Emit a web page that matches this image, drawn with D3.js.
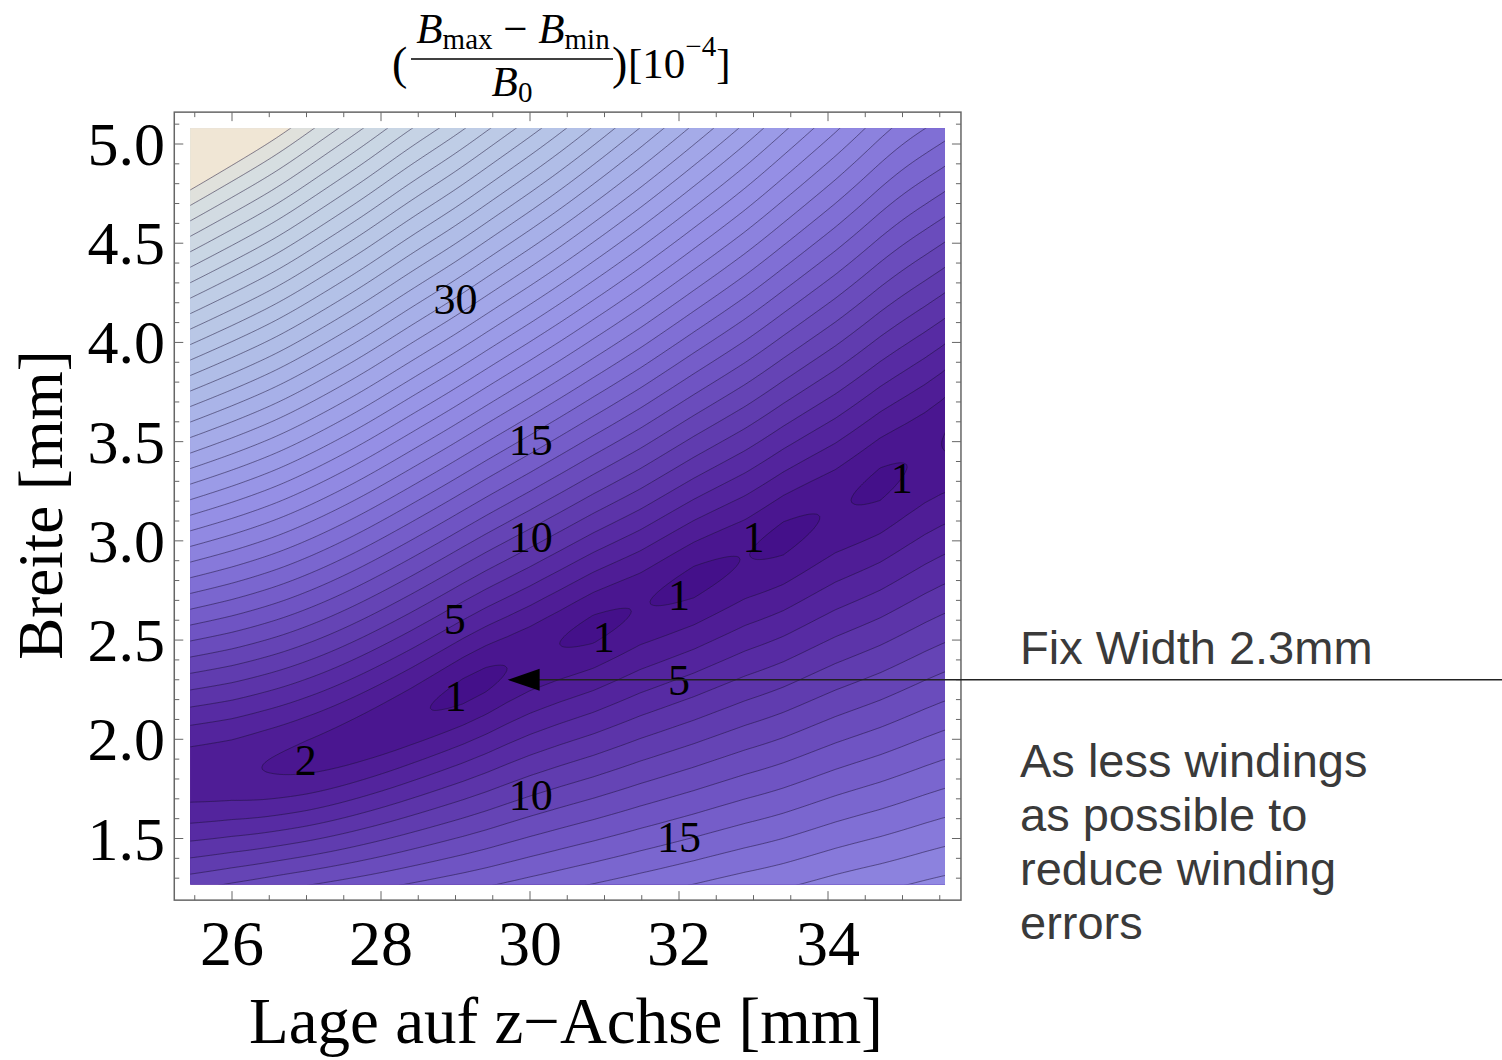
<!DOCTYPE html>
<html>
<head>
<meta charset="utf-8">
<script src="https://cdn.jsdelivr.net/npm/d3@7"></script>
<style>
  body { margin: 0; background: #fff; }
  svg text { font-family: "Liberation Serif", "Times New Roman", serif; }
</style>
</head>
<body>
<div id="chart-area"></div>
<script>
// columns along the z axis [mm] where the picture was read
var zCols     = [25.4, 26.0, 26.6, 27.2, 27.8, 28.4, 29.0, 29.6, 30.2, 30.8, 31.4, 32.0, 32.6, 33.2, 33.8, 34.4, 35.0, 35.6];
// width of the valley bottom (best width) per column [mm]
var valleyW   = [1.82, 1.835, 1.865, 1.92, 2.006, 2.107, 2.223, 2.339, 2.45, 2.55, 2.651, 2.762, 2.868, 2.974, 3.10, 3.221, 3.357, 3.508];
// rise per mm above / below the valley
var slopeUp   = [12.9, 12.4, 12.0, 11.6, 11.35, 11.1, 11.0, 10.8, 10.6, 10.3, 9.96, 9.66, 9.31, 8.93, 8.59, 8.23, 7.84, 7.9];
var slopeDown = [13.1, 13.7, 14.1, 13.7, 12.8, 11.9, 11.0, 10.25, 9.7, 9.35, 8.95, 8.6, 8.3, 8.0, 7.7, 7.45, 7.13, 6.83];

// lowest value along the valley (islands below 1)
var valleyMinZ = [25.4, 26.0, 26.4, 27.0, 27.8, 28.4, 28.66, 29.1, 29.4, 29.69, 30.0, 30.4, 30.85, 31.36, 31.48, 31.61,
                  32.2, 32.82, 32.88, 32.95, 33.4, 33.89, 34.1, 34.31, 34.7, 35.06, 35.3, 35.53, 35.6];
var valleyMin  = [2.4, 2.25, 2.0, 1.7, 1.4, 1.15, 1.0, 0.72, 0.75, 1.0, 1.12, 1.0, 0.72, 1.0, 1.06, 1.0,
                  0.7, 1.0, 1.03, 1.0, 0.72, 1.0, 1.1, 1.0, 0.78, 1.0, 1.08, 1.0, 0.9];

var levels = d3.range(1, 39);

var xTicks = [26, 28, 30, 32, 34];
var yTicks = [1.5, 2.0, 2.5, 3.0, 3.5, 4.0, 4.5, 5.0];

// contour labels as printed on the plot
var labelText = ["30", "15", "10", "5", "2", "1", "1", "1", "1", "1", "5", "10", "15"];
var labelZ    = [29.0, 30.01, 30.01, 28.99, 26.99, 29.0, 30.99, 32.0, 33.0, 34.99, 32.0, 30.01, 32.0];
var labelW    = [4.22, 3.51, 3.02, 2.61, 1.90, 2.22, 2.52, 2.73, 3.02, 3.32, 2.30, 1.72, 1.51];

var zRange = [25.44, 35.57], wRange = [1.27, 5.08];
var fixWidth = 2.3, fixZ = 29.7;

var noteTitle = "Fix Width 2.3mm";
var noteLines = ["As less windings", "as possible to", "reduce winding", "errors"];

var width = 1502, height = 1060;

var x = d3.scaleLinear().domain([26, 34]).range([232, 828]);
var y = d3.scaleLinear().domain([5.0, 1.5]).range([144, 838.5]);

var color = d3.scaleLinear()
    .domain([0.5, 1.5, 2.5, 4, 7, 10, 12, 14, 16, 19, 22, 26, 30, 34, 36.5, 37.5, 38.5])
    .range(["#44108a", "#4a1690", "#4f1d96", "#5527a0", "#6240b2", "#7258c6", "#7d6ad2", "#8a7edc",
            "#938ce4", "#9d9ee8", "#a6aee8", "#b1bfe7", "#bdcce6", "#cbd7e4", "#d6dee1", "#e0e1dc", "#f0e6d5"])
    .clamp(true);

var svg = d3.select("#chart-area").append("svg")
    .attr("width", width)
    .attr("height", height);

// ---- field on a fine grid ----
var x0 = x(zRange[0]), x1 = x(zRange[1]);
var y0 = y(wRange[1]), y1 = y(wRange[0]);
var nx = 320, ny = 320, pad = 3;
var cw = (x1 - x0) / nx, ch = (y1 - y0) / ny;
var gx = nx + 2 * pad, gy = ny + 2 * pad;

var tOf = d3.scaleLinear().domain([zCols[0], zCols[zCols.length - 1]]).range([0, 1]).clamp(true);
var wAt = d3.interpolateBasis(valleyW);
var upAt = d3.interpolateBasis(slopeUp);
var downAt = d3.interpolateBasis(slopeDown);
var minAt = d3.scaleLinear().domain(valleyMinZ).range(valleyMin).clamp(true);

var values = new Array(gx * gy);
for (var j = 0; j < gy; j++) {
  var w = y.invert(y0 + (j - pad + 0.5) * ch);
  for (var i = 0; i < gx; i++) {
    var z = x.invert(x0 + (i - pad + 0.5) * cw);
    var t = tOf(z);
    var d = w - wAt(t);
    var g = d > 0 ? upAt(t) : downAt(t);
    var m = minAt(z);
    values[j * gx + i] = Math.sqrt(m * m + g * g * d * d);
  }
}

var contours = d3.contours().size([gx, gy]).thresholds(levels)(values);

var path = d3.geoPath(d3.geoTransform({
  point: function(px, py) {
    this.stream.point(x0 + (px - pad) * cw, y0 + (py - pad) * ch);
  }
}));

svg.append("clipPath").attr("id", "plot-clip")
  .append("rect")
    .attr("x", x0).attr("y", y0)
    .attr("width", x1 - x0).attr("height", y1 - y0);

var plot = svg.append("g").attr("clip-path", "url(#plot-clip)");

plot.append("rect")
    .attr("x", x0).attr("y", y0)
    .attr("width", x1 - x0).attr("height", y1 - y0)
    .attr("fill", color(0.5));

plot.selectAll("path.band")
  .data(contours)
  .enter().append("path")
    .attr("class", "band")
    .attr("d", path)
    .attr("fill", function(c) { return color(c.value + 0.5); });

plot.selectAll("path.iso")
  .data(contours)
  .enter().append("path")
    .attr("class", "iso")
    .attr("d", path)
    .attr("fill", "none")
    .attr("stroke", "#1c1236")
    .attr("stroke-opacity", 0.5)
    .attr("stroke-width", 1);

// ---- contour labels ----
svg.append("g").selectAll("text")
  .data(labelText)
  .enter().append("text")
    .attr("x", function(d, i) { return x(labelZ[i]); })
    .attr("y", function(d, i) { return y(labelW[i]); })
    .attr("dy", "0.35em")
    .attr("text-anchor", "middle")
    .attr("font-size", "44px")
    .attr("fill", "#000")
    .text(function(d) { return d; });

// ---- frame with ticks ----
var fx0 = x0 - 16, fx1 = x1 + 16, fy0 = y0 - 16, fy1 = y1 + 16;
var frame = svg.append("g");
frame.append("rect")
    .attr("x", fx0).attr("y", fy0)
    .attr("width", fx1 - fx0).attr("height", fy1 - fy0)
    .attr("fill", "none")
    .attr("stroke", "#666")
    .attr("stroke-width", 1.5);

var xMinor = d3.range(25.5, 35.75, 0.5);
var yMinor = d3.range(13, 52).map(function(v) { return v / 10; });

function isMajorX(v) { return Math.abs(v / 2 - Math.round(v / 2)) < 1e-6; }
function isMajorY(v) { return Math.abs(v * 2 - Math.round(v * 2)) < 1e-6; }

xMinor.forEach(function(v) {
  var px = x(v), len = isMajorX(v) ? 9 : 5;
  frame.append("line").attr("x1", px).attr("x2", px).attr("y1", fy1).attr("y2", fy1 - len)
    .attr("stroke", "#666").attr("stroke-width", 1);
  frame.append("line").attr("x1", px).attr("x2", px).attr("y1", fy0).attr("y2", fy0 + len)
    .attr("stroke", "#666").attr("stroke-width", 1);
});
yMinor.forEach(function(v) {
  var py = y(v), len = isMajorY(v) ? 9 : 5;
  frame.append("line").attr("x1", fx0).attr("x2", fx0 + len).attr("y1", py).attr("y2", py)
    .attr("stroke", "#666").attr("stroke-width", 1);
  frame.append("line").attr("x1", fx1).attr("x2", fx1 - len).attr("y1", py).attr("y2", py)
    .attr("stroke", "#666").attr("stroke-width", 1);
});

// tick labels
svg.append("g").selectAll("text")
  .data(xTicks)
  .enter().append("text")
    .attr("x", function(d) { return x(d); })
    .attr("y", 965)
    .attr("text-anchor", "middle")
    .attr("font-size", "64px")
    .text(function(d) { return d; });

svg.append("g").selectAll("text")
  .data(yTicks)
  .enter().append("text")
    .attr("x", 165)
    .attr("y", function(d) { return y(d) + 21; })
    .attr("text-anchor", "end")
    .attr("font-size", "62px")
    .text(function(d) { return d.toFixed(1); });

// axis titles
svg.append("text")
    .attr("x", 566)
    .attr("y", 1043)
    .attr("text-anchor", "middle")
    .attr("font-size", "65px")
    .text("Lage auf z\u2212Achse [mm]");

svg.append("text")
    .attr("transform", "translate(62,505) rotate(-90)")
    .attr("text-anchor", "middle")
    .attr("font-size", "63px")
    .text("Breite [mm]");

// ---- plot title: (Bmax - Bmin)/B0 [10^-4] ----
var title = svg.append("g");
title.append("text").attr("x", 392).attr("y", 79).attr("font-size", "46px").text("(");
title.append("text").attr("x", 612).attr("y", 79).attr("font-size", "46px").text(")");

var num = title.append("text").attr("x", 513).attr("y", 43).attr("text-anchor", "middle").attr("font-size", "43px");
num.append("tspan").attr("font-style", "italic").text("B");
num.append("tspan").attr("font-size", "29px").attr("dy", 6).text("max");
num.append("tspan").attr("dy", -6).text(" \u2212 ");
num.append("tspan").attr("font-style", "italic").text("B");
num.append("tspan").attr("font-size", "29px").attr("dy", 6).text("min");

title.append("line")
    .attr("x1", 411).attr("x2", 613).attr("y1", 59).attr("y2", 59)
    .attr("stroke", "#000").attr("stroke-width", 1.6);

var den = title.append("text").attr("x", 512).attr("y", 96).attr("text-anchor", "middle").attr("font-size", "43px");
den.append("tspan").attr("font-style", "italic").text("B");
den.append("tspan").attr("font-size", "29px").attr("dy", 6).text("0");

var unit = title.append("text").attr("x", 628).attr("y", 78).attr("font-size", "43px");
unit.append("tspan").text("[10");
unit.append("tspan").attr("font-size", "29px").attr("dy", -22).text("\u22124");
unit.append("tspan").attr("dy", 22).text("]");

// ---- annotation arrow ----
var ax = x(fixZ), ay = y(fixWidth);
svg.append("line")
    .attr("x1", ax + 30).attr("x2", width).attr("y1", ay).attr("y2", ay)
    .attr("stroke", "#222").attr("stroke-width", 1.3);
svg.append("path")
    .attr("d", d3.line()([[ax, ay], [ax + 32, ay - 11], [ax + 32, ay + 11]]) + "Z")
    .attr("fill", "#000");

var note = svg.append("g")
    .attr("font-size", "47px")
    .attr("fill", "#3a3a3a");
note.append("text").attr("x", 1020).attr("y", 664)
    .style("font-family", "'Liberation Sans', Arial, sans-serif").text(noteTitle);
note.selectAll("text.line")
  .data(noteLines)
  .enter().append("text")
    .attr("class", "line")
    .attr("x", 1020)
    .attr("y", function(d, i) { return 777 + i * 54; })
    .style("font-family", "'Liberation Sans', Arial, sans-serif")
    .text(function(d) { return d; });
</script>
</body>
</html>
